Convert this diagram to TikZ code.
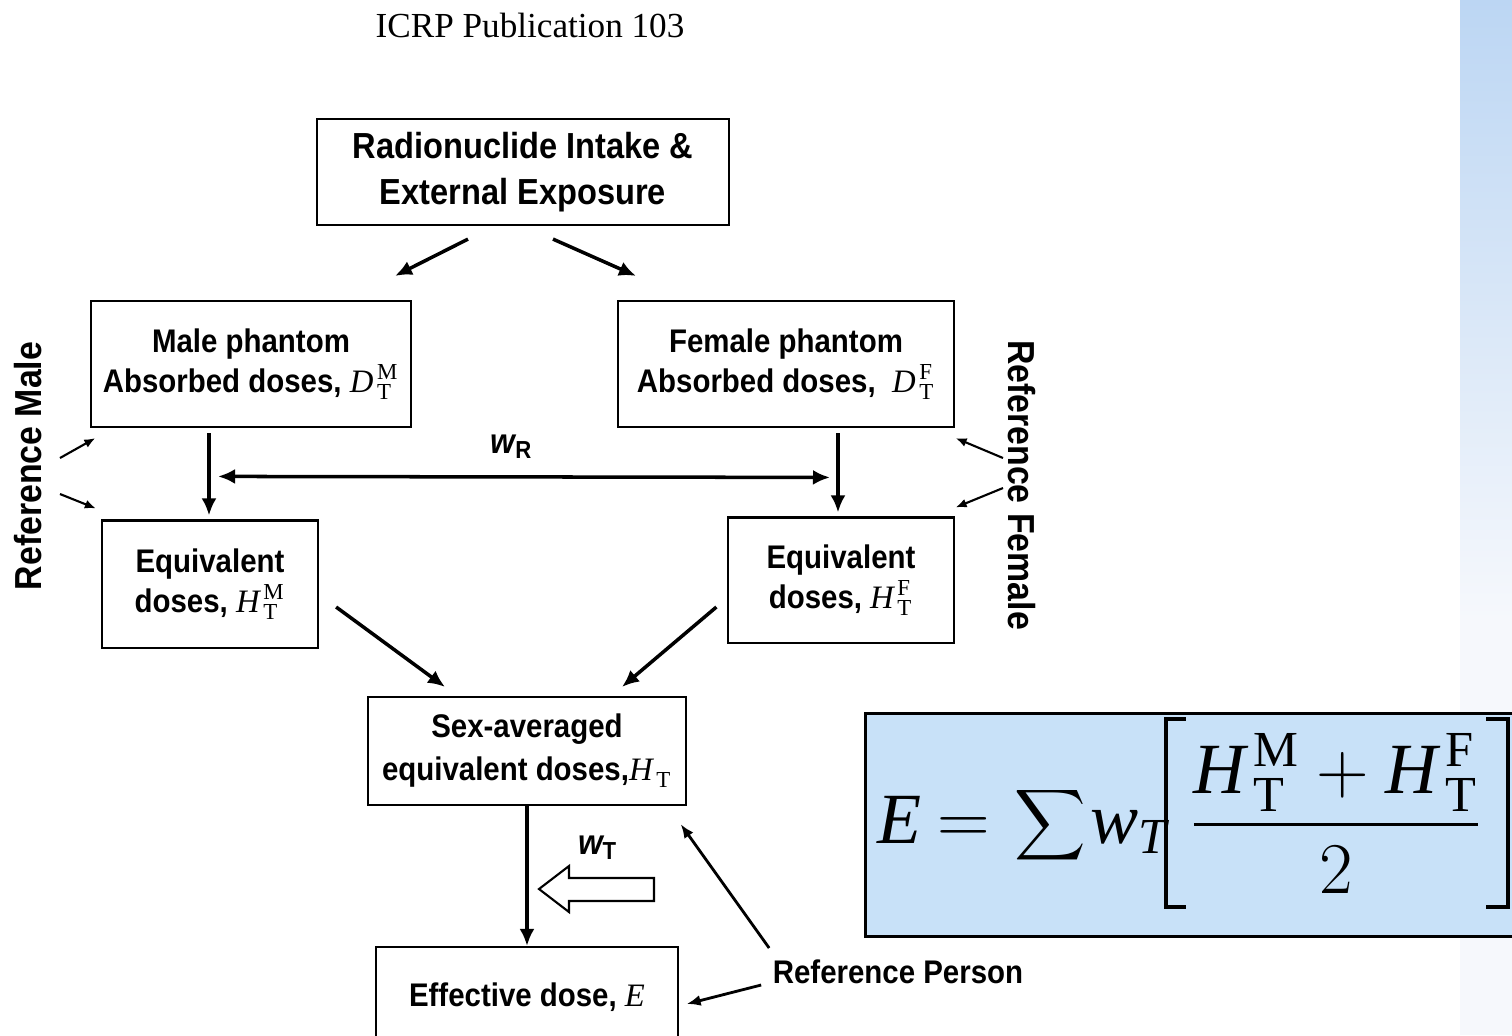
\documentclass[tikz,border=0pt]{standalone}
\usepackage{amsmath}
\usepackage{fontspec}
\setmainfont{Liberation Serif}
\newfontfamily\diafont{Liberation Sans}[FakeStretch=0.9]
\usetikzlibrary{calc,arrows.meta}

\definecolor{formulablue}{RGB}{200,225,248}
\definecolor{stripblue}{RGB}{188,214,243}
\definecolor{stripfade}{RGB}{246,248,252}

\newcommand{\dq}[3]{{\mathit{#1}\mkern2mu}^{\mathrm{#2}}_{\mathrm{#3}}}
\newcommand{\bigsum}{\mathop{\vcenter{\hbox{\scalebox{0.68}{$\displaystyle\sum$}}}}}

\begin{document}
\begin{tikzpicture}[x=0.01cm, y=-0.01cm,
  box/.style={draw, line width=0.6pt, align=center, inner sep=0pt,
    font=\diafont\bfseries\fontsize{9.3}{11.4}\selectfont},
  arr/.style={line width=1pt, -{Latex[length=0.17cm,width=0.15cm]}},
  dblarr/.style={line width=1pt, {Latex[length=0.17cm,width=0.15cm]}-{Latex[length=0.17cm,width=0.15cm]}},
  midarr/.style={line width=0.8pt, -{Latex[length=0.14cm,width=0.11cm]}},
  thinarr/.style={line width=0.6pt, -{Latex[length=0.11cm,width=0.09cm]}},
  side/.style={font=\diafont\bfseries\fontsize{10.7}{12}\selectfont, inner sep=0pt},
  formel/.style={font=\fontsize{20.5}{25.5}\selectfont, inner sep=0pt},
  bracket/.style={line width=1.1pt}]

  \useasboundingbox (0,0) rectangle (1512,1035);
  \clip (0,0) rectangle (1512,1035);

  % strip on the right
  \shade[top color=stripblue, bottom color=stripfade] (1460,0) rectangle (1512,620);
  \fill[stripfade] (1460,620) rectangle (1512,1035);

  \node[font=\fontsize{10}{12}\selectfont] (title) at (530,25) {ICRP Publication 103};

  \node[box, minimum width=4.11cm, minimum height=1.06cm,
    font=\diafont\bfseries\fontsize{10.3}{13.1}\selectfont] (intake) at (523,172)
    {Radionuclide Intake \&\\External Exposure};
  \node[box, minimum width=3.19cm, minimum height=1.26cm] (malephantom) at (251,364)
    {Male phantom\\Absorbed doses, $\dq{D}{M}{T}$};
  \node[box, minimum width=3.35cm, minimum height=1.26cm] (femalephantom) at (786,364)
    {Female phantom\\Absorbed doses,\ \ $\dq{D}{F}{T}$};
  \node[box, minimum width=2.16cm, minimum height=1.27cm] (equivm) at (210,584)
    {Equivalent\\doses, $\dq{H}{M}{T}$};
  \node[box, minimum width=2.25cm, minimum height=1.25cm] (equivf) at (841,580)
    {Equivalent\\doses, $\dq{H}{F}{T}$};
  \node[box, minimum width=3.17cm, minimum height=1.08cm,
    font=\diafont\bfseries\fontsize{9.3}{12.2}\selectfont] (sexavg) at (527,751)
    {Sex-averaged\\equivalent doses,$\dq{H}{}{T}$};
  \node[box, minimum width=3.01cm, minimum height=1.0cm] (effective) at (527,997)
    {Effective dose, $\mathit{E}$};

  % formula box
  \node[draw, line width=0.8pt, fill=formulablue, minimum width=6.66cm, minimum height=2.23cm,
    anchor=north west, inner sep=0pt] (formula) at (864,712) {};
  \node[formel, anchor=base west] (formulalhs) at (877,843)
    {$\displaystyle \mathit{E}\mkern4mu{=}\mkern3mu\bigsum\mkern-2mu\mathit{w}_{\mathit{T}}$};
  \node[formel, anchor=base] (formulafrac) at (1336,843)
    {$\displaystyle\frac{\dq{H}{M}{T}+\dq{H}{F}{T}}{2}$};
  \draw[bracket] ($(formulafrac.west)+(-3,-94)$) -- ++(-20,0) -- ++(0,188) -- ++(20,0);
  \draw[bracket] ($(formulafrac.east)+(3,-94)$) -- ++(22,0) -- ++(0,188) -- ++(-22,0);

  % labels
  \node[font=\diafont\bfseries\fontsize{10}{12}\selectfont] (wR) at (512,447) {\itshape w\textsubscript{\upshape R}};
  \node[font=\diafont\bfseries\fontsize{10}{12}\selectfont] (wT) at (598,848) {\itshape w\textsubscript{\upshape T}};
  \node[font=\diafont\bfseries\fontsize{9.3}{11}\selectfont, inner sep=0pt] (refperson) at (898,972) {Reference Person};
  \node[side, rotate=90] (refmale) at (28,466) {Reference Male};
  \node[side, rotate=-90] (reffemale) at (1022,485) {Reference Female};

  % hollow arrow for w_T
  \draw[line width=0.6pt] (654,878) -- (569,878) -- (569,866) -- (539,889) -- (569,912)
    -- (569,901) -- (654,901) -- cycle;

  \draw[arr] ($(intake.south)+(-55,13)$) -- ($(malephantom.north)+(144,-24)$);
  \draw[arr] ($(intake.south)+(30,13)$) -- ($(femalephantom.north)+(-150,-24)$);
  \draw[arr] ($(malephantom.south)+(-42,5)$) -- ($(equivm.north)+(-1,-4)$);
  \draw[arr] ($(femalephantom.south)+(52,5)$) -- ($(equivf.north)+(-3,-4)$);
  \draw[dblarr] ($(equivm.north)+(8,-43)$) -- ($(equivf.north)+(-11,-39)$);
  \draw[arr] ($(equivm.east)+(17,23)$) -- ($(sexavg.north)+(-82,-9)$);
  \draw[arr] ($(equivf.west)+(-11,27)$) -- ($(sexavg.north)+(95,-9)$);
  \draw[arr] (sexavg) -- (effective);
  \draw[midarr] ($(refperson.west)+(-3,-24)$) -- ($(sexavg.south east)+(-6,18)$);
  \draw[midarr] ($(refperson.west)+(-11,13)$) -- ($(effective.east)+(8,7)$);

  \draw[thinarr] ($(refmale)+(32,-8)$) -- ($(malephantom.south west)+(5,10)$);
  \draw[thinarr] ($(refmale)+(32,28)$) -- ($(equivm.north west)+(-5,-11)$);
  \draw[thinarr] ($(reffemale)+(-19,-27)$) -- ($(femalephantom.south east)+(1,10)$);
  \draw[thinarr] ($(reffemale)+(-19,3)$) -- ($(equivf.north east)+(1,-9)$);
\end{tikzpicture}
\end{document}
